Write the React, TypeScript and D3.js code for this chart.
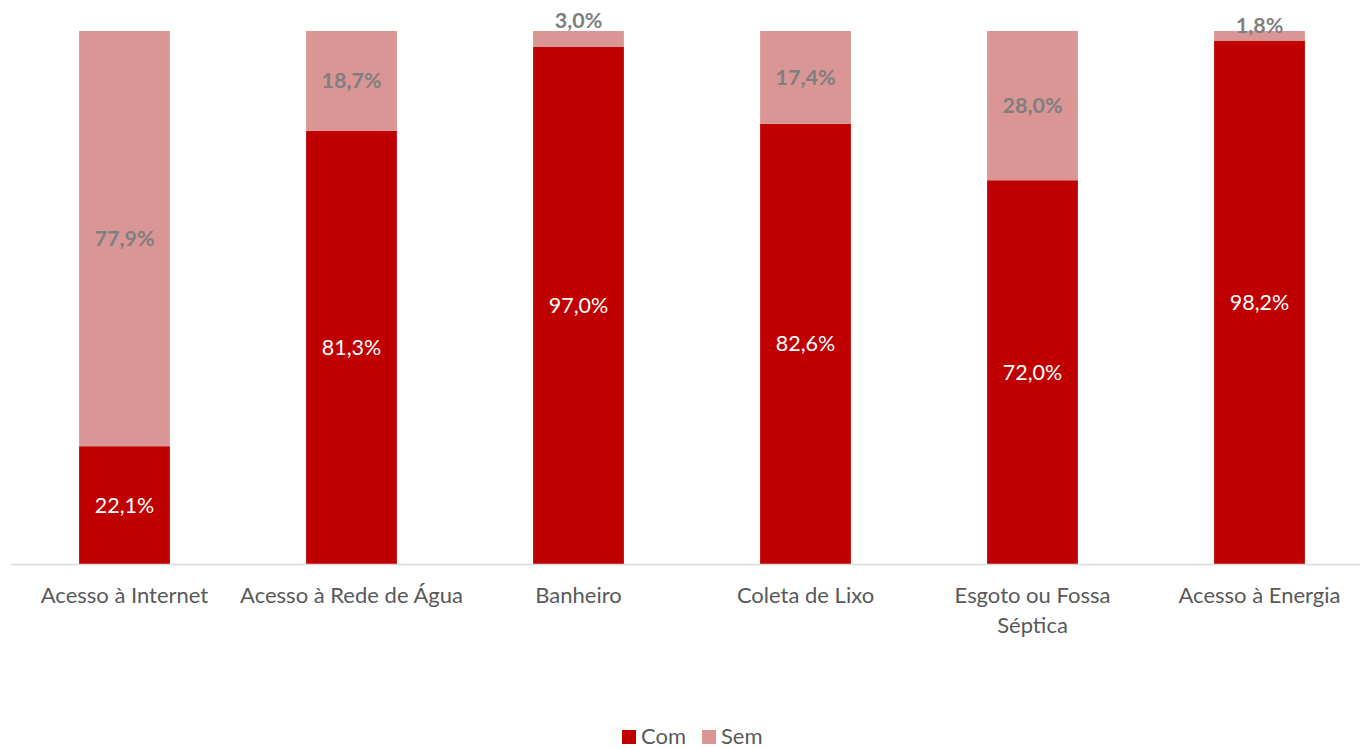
import React from "react"
import * as d3 from "d3"

const categories = [
  ["Acesso à Internet"],
  ["Acesso à Rede de Água"],
  ["Banheiro"],
  ["Coleta de Lixo"],
  ["Esgoto ou Fossa", "Séptica"],
  ["Acesso à Energia"],
]
const comValues = [22.1, 81.3, 97.0, 82.6, 72.0, 98.2]
const semValues = [77.9, 18.7, 3.0, 17.4, 28.0, 1.8]
// small labels were nudged upward in the original
const semLabelShift = [0, 0, -19, 0, 0, -10]
const seriesNames = ["Com", "Sem"]
const colors = ["#C00000", "#D99694"]

const W = 1360
const H = 748
const FONT = "Lato, 'Open Sans', sans-serif"

const fmt = (v: number) => v.toFixed(1).replace(".", ",") + "%"

export default function App() {
  const idx = categories.map((_, i) => String(i))
  const x = d3.scaleBand().domain(idx).range([11, 1373]).paddingInner(0.6).paddingOuter(0.3)
  const y = d3.scaleLinear().domain([0, 100]).range([564, 31])

  const rows = idx.map((k, i) => ({ key: k, Com: comValues[i], Sem: semValues[i] }))
  const stacked = d3.stack<any>().keys(seriesNames)(rows)

  return (
    <svg width={W} height={H} style={{ position: "absolute", left: 0, top: 0, background: "#fff" }}>
      {stacked.map((s, si) => (
        <g key={s.key} fill={colors[si]}>
          {s.map((d, i) => (
            <rect key={i} x={x(idx[i])} width={x.bandwidth()} y={y(d[1])} height={y(d[0]) - y(d[1])} />
          ))}
        </g>
      ))}
      <line x1={11} x2={W} y1={564.5} y2={564.5} stroke="#d9d9d9" strokeWidth={1.5} />
      {stacked.map((s, si) =>
        s.map((d, i) => {
          const cx = (x(idx[i]) as number) + x.bandwidth() / 2
          const cy = (y(d[0]) + y(d[1])) / 2 + (si === 1 ? semLabelShift[i] : 0)
          const v = d[1] - d[0]
          return (
            <text
              key={s.key + i}
              x={cx}
              y={cy}
              dy="0.35em"
              textAnchor="middle"
              fontFamily={FONT}
              fontSize={21.5}
              fontWeight={si === 1 ? "bold" : "normal"}
              fill={si === 1 ? "#7f7f7f" : "#ffffff"}
            >
              {fmt(v)}
            </text>
          )
        })
      )}
      {categories.map((lines, i) => (
        <text
          key={i}
          x={(x(idx[i]) as number) + x.bandwidth() / 2}
          y={603}
          textAnchor="middle"
          fontFamily={FONT}
          fontSize={22}
          fill="#595959"
        >
          {lines.map((l, j) => (
            <tspan key={j} x={(x(idx[i]) as number) + x.bandwidth() / 2} dy={j === 0 ? 0 : 30}>
              {l}
            </tspan>
          ))}
        </text>
      ))}
      <g fontFamily={FONT} fontSize={22} fill="#595959">
        <rect x={622} y={730} width={14} height={14} fill={colors[0]} />
        <text x={641} y={744}>{seriesNames[0]}</text>
        <rect x={702} y={730} width={14} height={14} fill={colors[1]} />
        <text x={721} y={744}>{seriesNames[1]}</text>
      </g>
    </svg>
  )
}
